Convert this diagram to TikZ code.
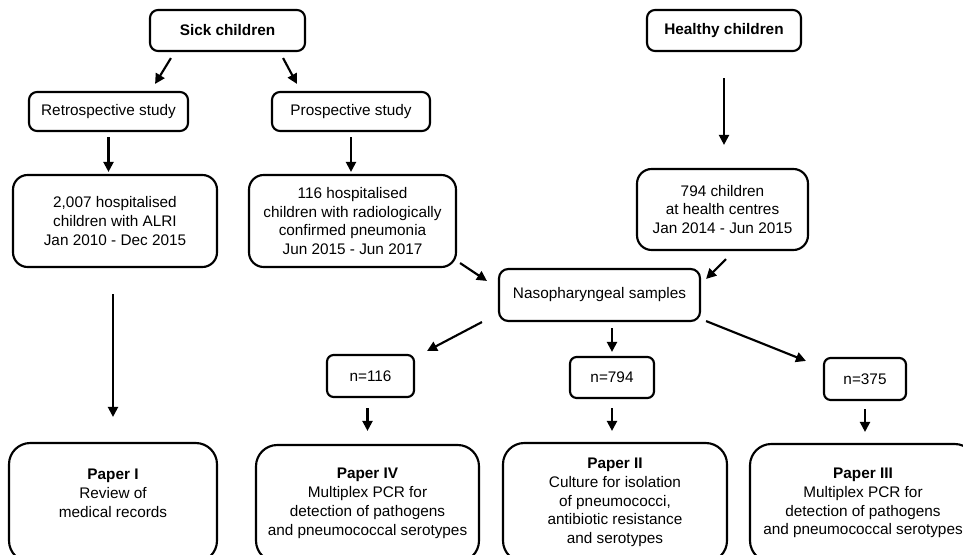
\documentclass[tikz,border=0pt]{standalone}
\usepackage{fontspec}
\setmainfont{Liberation Sans}
\usepackage{tikz}
\usetikzlibrary{arrows.meta,positioning}

\begin{document}
\begin{tikzpicture}[
  x=0.75pt, y=-0.75pt,
  box/.style={draw, line width=1.6pt, rounded corners=6pt, align=center, inner sep=0pt, font=\fontsize{11.5}{14.1}\selectfont},
  smallbox/.style={box, rounded corners=5pt},
  bigbox/.style={box, rounded corners=11pt},
  paperbox/.style={box, rounded corners=16pt},
  >={Triangle[length=7.5pt,width=7.5pt]}, line width=1.6pt
]
\useasboundingbox (0,0) rectangle (963,555);
\clip (0,0) rectangle (963,555);

\node[box, minimum width=116.25pt, minimum height=30.75pt] (sick) at (227.5,30.5) {\textbf{Sick children}};
\node[box, minimum width=115.5pt, minimum height=30.75pt] (healthy) at (724,30.5) {\textbf{Healthy children}};
\node[box, minimum width=119.25pt, minimum height=29.25pt] (retro) at (108.5,111.5) {Retrospective study};
\node[box, minimum width=118.5pt, minimum height=29.25pt] (pros) at (351,111.5) {Prospective study};
\node[bigbox, minimum width=153pt, minimum height=69pt] (hosp) at (115,221) {2,007 hospitalised\\children with ALRI\\Jan 2010 - Dec 2015};
\node[bigbox, minimum width=155.25pt, minimum height=69pt] (pneu) at (352.5,221) {116 hospitalised\\children with radiologically\\confirmed pneumonia\\Jun 2015 - Jun 2017};
\node[bigbox, minimum width=128.25pt, minimum height=60.75pt] (hc) at (722.5,209.5) {794 children\\at health centres\\Jan 2014 - Jun 2015};
\node[box, rounded corners=7pt, minimum width=150.75pt, minimum height=39pt] (naso) at (599.5,295) {Nasopharyngeal samples};
\node[smallbox, minimum width=65.25pt, minimum height=31.5pt] (n116) at (370.5,376) {n=116};
\node[smallbox, minimum width=63pt, minimum height=30.75pt] (n794) at (612,377.5) {n=794};
\node[smallbox, minimum width=61.5pt, minimum height=31.5pt] (n375) at (865,379) {n=375};
\node[paperbox, minimum width=156pt, minimum height=89.25pt] (p1) at (113,502.5) {\textbf{Paper I}\\Review of\\medical records\\~};
\node[paperbox, minimum width=167.25pt, minimum height=87.75pt] (p4) at (367.5,503.5) {\textbf{Paper IV}\\Multiplex PCR for\\detection of pathogens\\and pneumococcal serotypes};
\node[paperbox, minimum width=168pt, minimum height=89.25pt] (p2) at (615,502.5) {\textbf{Paper II}\\Culture for isolation\\of pneumococci,\\antibiotic resistance\\and serotypes};
\node[paperbox, minimum width=169.5pt, minimum height=88.5pt] (p3) at (863,503) {\textbf{Paper III}\\Multiplex PCR for\\detection of pathogens\\and pneumococcal serotypes};

\draw[->] ([shift={(22,6)}]sick.south west) -- ([shift={(-34,-7)}]retro.north east);
\draw[->] ([shift={(-23,6)}]sick.south east) -- ([shift={(26,-7)}]pros.north west);
\draw[->, shorten <=3.75pt, shorten >=1.5pt] (retro.south) -- (retro.south |- hosp.north);
\draw[->, shorten <=3.75pt, shorten >=1.5pt] (pros.south) -- (pros.south |- pneu.north);
\draw[->, shorten <=19.5pt, shorten >=17.25pt] (healthy.south) -- (healthy.south |- hc.north);
\draw[->, shorten <=19.5pt, shorten >=18.75pt] (p1.north |- hosp.south) -- (p1.north);
\draw[->] ([shift={(3,-5)}]pneu.south east) -- ([shift={(-11,13)}]naso.north west);
\draw[->] ([shift={(3.5,8)}]hc.south) -- ([shift={(5,11)}]naso.north east);
\draw[->] ([shift={(-16,0)}]naso.south west) -- ([shift={(12,-3)}]n116.north east);
\draw[->, shorten <=4.5pt, shorten >=3pt] (n794.north |- naso.south) -- (n794.north);
\draw[->] ([shift={(5,-1)}]naso.south east) -- ([shift={(-17,4)}]n375.north west);
\draw[->, shorten <=7.5pt, shorten >=9.75pt] (p4.north |- n116.south) -- (p4.north);
\draw[->, shorten <=6.75pt, shorten >=8.25pt] (n794.south) -- (n794.south |- p2.north);
\draw[->, shorten <=6pt, shorten >=8.25pt] (n375.south) -- (n375.south |- p3.north);
\end{tikzpicture}
\end{document}
